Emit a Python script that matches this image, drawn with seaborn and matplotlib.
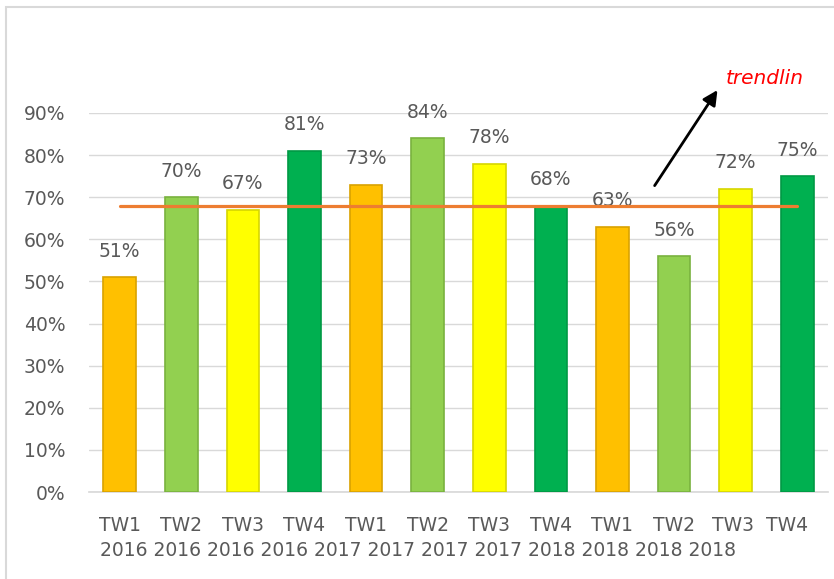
import pandas as pd
import matplotlib.pyplot as plt
import matplotlib.transforms as mtrans
import seaborn as sns
from matplotlib.patches import Rectangle

# chart data
quarters = ["TW1", "TW2", "TW3", "TW4", "TW1", "TW2", "TW3", "TW4", "TW1", "TW2", "TW3", "TW4"]
years = ["2016", "2016", "2016", "2016", "2017", "2017", "2017", "2017", "2018", "2018", "2018", "2018"]
values = [0.51, 0.70, 0.67, 0.81, 0.73, 0.84, 0.78, 0.68, 0.63, 0.56, 0.72, 0.75]
trend_value = 0.68
quarter_colors = {"TW1": "#FFC000", "TW2": "#92D050", "TW3": "#FFFF00", "TW4": "#00B050"}
edge_colors = {"TW1": "#D9A200", "TW2": "#79B23E", "TW3": "#D6D600", "TW4": "#009944"}

data = pd.DataFrame({"quarter": quarters, "year": years, "value": values})
data["period"] = data["quarter"] + " " + data["year"]

sns.set_theme(style="white")
plt.rcParams["font.family"] = ["DejaVu Sans"]
text_color = "#595959"
fs = 13.5

fig = plt.figure(figsize=(8.34, 5.79), dpi=100)
ax = fig.add_axes([89 / 834, 87 / 579, 739 / 834, 379 / 579])

sns.barplot(data=data, x="period", y="value", hue="quarter", palette=quarter_colors,
            order=data["period"], dodge=False, width=0.53, saturation=1,
            legend=False, ax=ax, zorder=3)

# darker edges for a slight bevel look
for bar, q in zip(sorted(ax.patches, key=lambda p: p.get_x()), data["quarter"]):
    bar.set_edgecolor(edge_colors[q])
    bar.set_linewidth(1.2)

for cont in ax.containers:
    ax.bar_label(cont, labels=[f"{v:.0%}" if v == v else "" for v in cont.datavalues],
                 padding=12, fontsize=fs, color=text_color)

# flat trend line across the bars
ax.plot([0, len(values) - 1], [trend_value, trend_value], color="#ED7D31", lw=2.3, zorder=4)

ax.set_ylim(0, 0.9)
ax.set_xlim(-0.5, len(values) - 0.5)
ax.set_yticks([i / 10 for i in range(10)])
ax.set_yticklabels([f"{i * 10}%" for i in range(10)])
ax.set_xticks(range(len(values)))
ax.set_xticklabels(quarters)
ax.tick_params(axis="y", length=0, pad=17, labelsize=fs, labelcolor=text_color)
ax.tick_params(axis="x", length=0, pad=17, labelsize=fs, labelcolor=text_color)
ax.set_xlabel("")
ax.set_ylabel("")
ax.yaxis.grid(True, color="#D9D9D9", lw=1)
ax.set_axisbelow(True)
for side in ["top", "right", "left"]:
    ax.spines[side].set_visible(False)
ax.spines["bottom"].set_color("#D9D9D9")

# the last two category labels sit squeezed to the left in the original
xlabels = ax.get_xticklabels()
for lab, dx in zip(xlabels[-2:], [-3, -10]):
    lab.set_transform(lab.get_transform() + mtrans.ScaledTranslation(dx / 100, 0, fig.dpi_scale_trans))

# year line below the quarter labels (wrapped text in the original)
fig.text(100 / 834, 1 - 551 / 579, " ".join(years), ha="left", va="center",
         fontsize=fs, color=text_color)

# annotation arrow pointing at the trend line label
ax.annotate("", xy=(9.73, 0.96), xytext=(8.66, 0.722),
            arrowprops=dict(arrowstyle="-|>", color="black", lw=2, mutation_scale=22),
            annotation_clip=False)
ax.text(9.84, 0.983, "trendlin", color="red", fontsize=14.5, style="italic",
        ha="left", va="center", clip_on=False)

# chart border
fig.patches.append(Rectangle((6 / 834, -0.1), 1.2, 1 - 7 / 579 + 0.1,
                             transform=fig.transFigure, fill=False,
                             edgecolor="#D9D9D9", lw=1.5))

fig.savefig("out.png", dpi=100)
